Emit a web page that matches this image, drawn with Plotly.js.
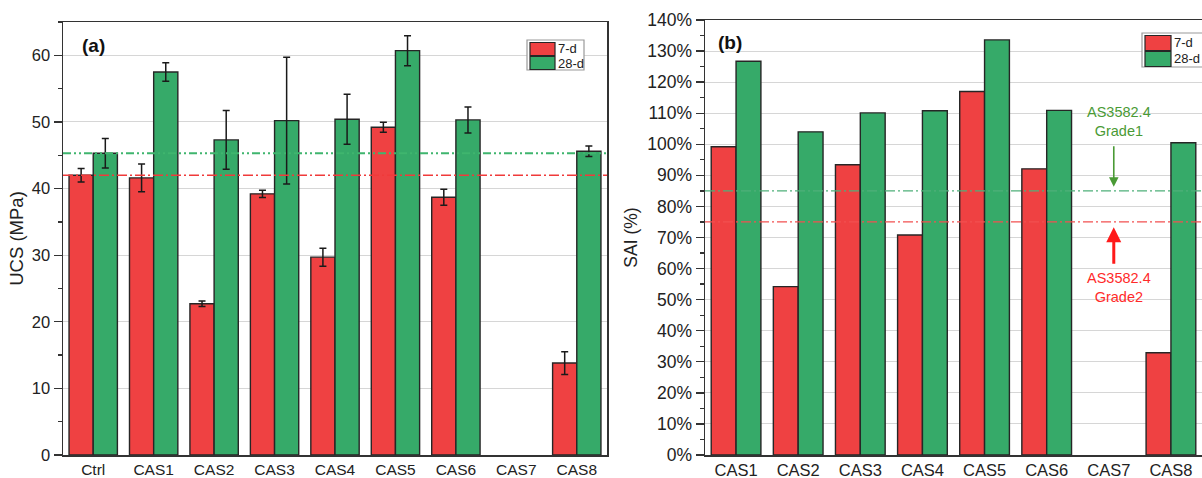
<!DOCTYPE html>
<html>
<head>
<meta charset="utf-8">
<script src="https://cdn.plot.ly/plotly-3.0.1.min.js"></script>
<style>html,body{margin:0;padding:0;background:#fff;}#chart{width:1202px;height:478px;}</style>
</head>
<body>
<div id="chart"></div>
<script>
// ---- data ----
const ucsCategories = ['Ctrl','CAS1','CAS2','CAS3','CAS4','CAS5','CAS6','CAS7','CAS8'];
const ucs7d      = [42.0, 41.6, 22.7, 39.2, 29.7, 49.2, 38.7, null, 13.8];
const ucs7dErr   = [1.0, 2.1, 0.4, 0.55, 1.35, 0.75, 1.2, null, 1.7];
const ucs28d     = [45.3, 57.5, 47.3, 50.2, 50.4, 60.7, 50.3, null, 45.6];
const ucs28dErr  = [2.2, 1.4, 4.4, 9.5, 3.75, 2.25, 1.95, null, 0.8];
const ucsRefLines = [45.3, 42.0]; // 28-d ctrl, 7-d ctrl

const saiCategories = ['CAS1','CAS2','CAS3','CAS4','CAS5','CAS6','CAS7','CAS8'];
const sai7d  = [99.2, 54.2, 93.4, 70.8, 117.0, 92.1, null, 32.9];
const sai28d = [126.7, 104.0, 110.1, 110.8, 133.6, 110.9, null, 100.5];
const saiRefLines = [85, 75]; // Grade1, Grade2

const seriesNames = ['7-d', '28-d'];

// ---- style ----
const RED = '#ef4142';
const GREEN = '#36aa69';
const LINE = '#262626';
const FONT = 'Liberation Sans, Arial, sans-serif';
const W = 1202, H = 478, T = 20, B = 23;
const PH = H - T - B;
const px2x = p => p / W;
const px2y = p => (H - B - p) / PH;

const errStyle = {type:'data', visible:true, color:'#1a1a1a', thickness:1.5, width:3.5};

const traces = [
  {type:'bar', x:ucsCategories, y:ucs7d, name:seriesNames[0], xaxis:'x', yaxis:'y',
   marker:{color:RED, line:{color:LINE, width:1.4}},
   error_y:Object.assign({array:ucs7dErr}, errStyle), showlegend:false},
  {type:'bar', x:ucsCategories, y:ucs28d, name:seriesNames[1], xaxis:'x', yaxis:'y',
   marker:{color:GREEN, line:{color:LINE, width:1.4}},
   error_y:Object.assign({array:ucs28dErr}, errStyle), showlegend:false},
  {type:'bar', x:saiCategories, y:sai7d, name:seriesNames[0], xaxis:'x2', yaxis:'y2',
   marker:{color:RED, line:{color:LINE, width:1.4}}, showlegend:false},
  {type:'bar', x:saiCategories, y:sai28d, name:seriesNames[1], xaxis:'x2', yaxis:'y2',
   marker:{color:GREEN, line:{color:LINE, width:1.4}}, showlegend:false}
];

const axisCommon = {
  showline:true, linecolor:'#333', linewidth:1.5, mirror:true
};

// custom legend boxes (Origin-style wide swatches)
function legendItems(x0, y0, w, h, sw, swh, fs) {
  const shapes = [
    {type:'rect', xref:'paper', yref:'paper', x0:px2x(x0), x1:px2x(x0+w), y0:px2y(y0), y1:px2y(y0+h),
     line:{color:'#9a9a9a', width:1.2}, fillcolor:'#fff', layer:'above'},
    {type:'rect', xref:'paper', yref:'paper', x0:px2x(x0+3), x1:px2x(x0+3+sw), y0:px2y(y0+2.5), y1:px2y(y0+2.5+swh),
     line:{color:LINE, width:1.2}, fillcolor:RED, layer:'above'},
    {type:'rect', xref:'paper', yref:'paper', x0:px2x(x0+3), x1:px2x(x0+3+sw), y0:px2y(y0+3.5+swh), y1:px2y(y0+3.5+2*swh),
     line:{color:LINE, width:1.2}, fillcolor:GREEN, layer:'above'}
  ];
  const anns = [
    {text:seriesNames[0], xref:'paper', yref:'paper', x:px2x(x0+sw+4), xanchor:'left', y:px2y(y0+2.5+swh/2), yanchor:'middle',
     showarrow:false, font:{family:FONT, size:fs, color:'#222'}},
    {text:seriesNames[1], xref:'paper', yref:'paper', x:px2x(x0+sw+4), xanchor:'left', y:px2y(y0+3.5+1.5*swh), yanchor:'middle',
     showarrow:false, font:{family:FONT, size:fs, color:'#222'}}
  ];
  return {shapes, anns};
}
const leg1 = legendItems(527, 40, 57, 30, 25, 13, 13);
const leg2 = legendItems(1142, 33, 70, 34, 26, 15, 13);

const layout = {
  width:W, height:H,
  margin:{l:0, r:0, t:T, b:B, autoexpand:false},
  paper_bgcolor:'#fff', plot_bgcolor:'#fff',
  font:{family:FONT, color:'#222'},
  barmode:'group', bargap:0.2, bargroupgap:0,
  showlegend:false,
  xaxis:Object.assign({}, axisCommon, {
    domain:[63/W, 607/W], anchor:'y', type:'category',
    ticks:'', showgrid:false, range:[-0.5, 8.5],
    tickfont:{family:FONT, size:15.5, color:'#222'}
  }),
  yaxis:Object.assign({}, axisCommon, {
    domain:[0, px2y(22)], anchor:'x', range:[0,65], dtick:10, tick0:0,
    ticks:'outside', ticklen:8, tickwidth:1.3, tickcolor:'#333',
    tickfont:{family:FONT, size:16.5, color:'#222'},
    showgrid:true, gridcolor:'#d6d6d6', gridwidth:1, zeroline:false,
    minor:{dtick:5, ticks:'outside', ticklen:4, tickcolor:'#333', showgrid:false},
    title:{text:'UCS (MPa)', font:{family:FONT, size:18.5, color:'#222'}, standoff:3}
  }),
  xaxis2:Object.assign({}, axisCommon, {
    domain:[705/W, 1], anchor:'y2', type:'category',
    ticks:'', showgrid:false, range:[-0.5, 7.5],
    tickfont:{family:FONT, size:16.5, color:'#222'}
  }),
  yaxis2:Object.assign({}, axisCommon, {
    domain:[0, 1], anchor:'x2', range:[0,140], dtick:10, tick0:0, ticksuffix:'%',
    ticks:'outside', ticklen:8, tickwidth:1.3, tickcolor:'#333',
    tickfont:{family:FONT, size:17.5, color:'#222'},
    showgrid:true, gridcolor:'#d6d6d6', gridwidth:1, zeroline:false,
    minor:{dtick:5, ticks:'outside', ticklen:4, tickcolor:'#333', showgrid:false},
    title:{text:'SAI (%)', font:{family:FONT, size:17.5, color:'#222'}, standoff:5}
  }),
  shapes:[
    {type:'line', xref:'x domain', yref:'y', x0:0, x1:1, y0:ucsRefLines[0], y1:ucsRefLines[0],
     line:{color:'#3fb56e', width:1.8, dash:'8px,3px,2px,3px,2px,3px'}},
    {type:'line', xref:'x domain', yref:'y', x0:0, x1:1, y0:ucsRefLines[1], y1:ucsRefLines[1],
     line:{color:'#f03a3a', width:1.6, dash:'10px,3px,2px,3px'}},
    {type:'line', xref:'x2 domain', yref:'y2', x0:0, x1:1, y0:saiRefLines[0], y1:saiRefLines[0],
     line:{color:'#4fb07a', width:1.2, dash:'10px,3px,2px,3px'}},
    {type:'line', xref:'x2 domain', yref:'y2', x0:0, x1:1, y0:saiRefLines[1], y1:saiRefLines[1],
     line:{color:'#f25050', width:1.2, dash:'10px,3px,2px,3px'}}
  ].concat(leg1.shapes, leg2.shapes),
  annotations:[
    {text:'<b>(a)</b>', xref:'paper', yref:'paper', x:px2x(80), xanchor:'left', y:px2y(45), yanchor:'middle',
     showarrow:false, font:{family:FONT, size:19, color:'#111'}},
    {text:'<b>(b)</b>', xref:'paper', yref:'paper', x:px2x(716), xanchor:'left', y:px2y(43), yanchor:'middle',
     showarrow:false, font:{family:FONT, size:19, color:'#111'}},
    {text:'AS3582.4<br>Grade1', xref:'x2', yref:'y2', x:6.16, y:107.2, showarrow:false,
     font:{family:FONT, size:14.5, color:'#4a9a35'}},
    {text:'', xref:'x2', yref:'y2', x:6.08, y:86.3, ax:0, ay:-42, showarrow:true,
     arrowhead:2, arrowsize:1.2, arrowwidth:1.6, arrowcolor:'#4a9a35'},
    {text:'', xref:'x2', yref:'y2', x:6.08, y:73.3, ax:0, ay:38, showarrow:true,
     arrowhead:2, arrowsize:1, arrowwidth:3, arrowcolor:'#ff1a1a'},
    {text:'AS3582.4<br>Grade2', xref:'x2', yref:'y2', x:6.16, y:53.8, showarrow:false,
     font:{family:FONT, size:14.5, color:'#ff2a2a'}}
  ].concat(leg1.anns, leg2.anns)
};

Plotly.newPlot('chart', traces, layout, {displayModeBar:false, staticPlot:true});
</script>
</body>
</html>
